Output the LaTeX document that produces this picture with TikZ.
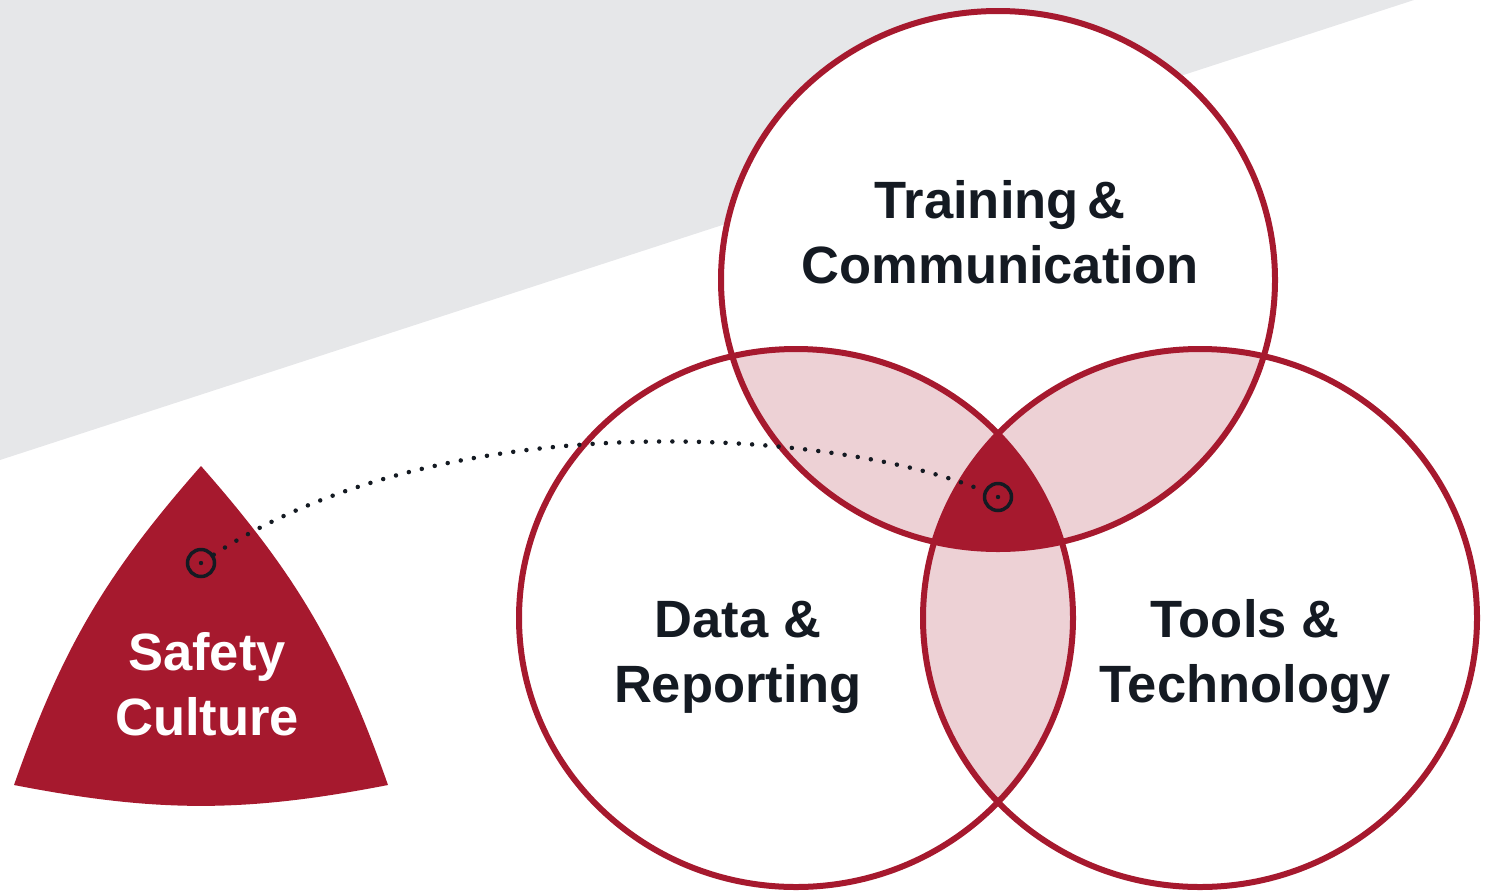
\documentclass[tikz,border=0pt]{standalone}
\usepackage{fontspec}
\setmainfont{Liberation Sans}
\definecolor{venred}{HTML}{A6192E}
\definecolor{venpink}{HTML}{EDD1D5}
\definecolor{bandgray}{HTML}{E6E7E9}
\definecolor{inkdark}{HTML}{141A22}
\tikzset{
  ring/.style={draw=venred, line width=6pt},
  label/.style={align=center, text=inkdark, font=\fontsize{52.5}{65}\selectfont\bfseries},
  marker/.style={circle, draw=inkdark, line width=3.5pt, minimum size=27pt, inner sep=0pt},
  dotline/.style={draw=inkdark, line width=4.5pt, line cap=round, dash pattern=on 0pt off 13.3pt}
}
\begin{document}
\begin{tikzpicture}[x=1pt,y=-1pt]
        \useasboundingbox (0,0) rectangle (1493,892);
        % grey band behind the circles
        \fill[bandgray] (0,0) -- (1414,0) -- (0,460) -- cycle;
        % the three circles
        \fill[white] (998,280) ellipse [x radius=277, y radius=269];
        \fill[white] (796,618) ellipse [x radius=277, y radius=269];
        \fill[white] (1200,618) ellipse [x radius=277, y radius=269];
        \begin{scope}
          \clip (998,280) ellipse [x radius=277, y radius=269];
          \fill[venpink] (796,618) ellipse [x radius=277, y radius=269];
          \fill[venpink] (1200,618) ellipse [x radius=277, y radius=269];
        \end{scope}
        \begin{scope}
          \clip (796,618) ellipse [x radius=277, y radius=269];
          \fill[venpink] (1200,618) ellipse [x radius=277, y radius=269];
        \end{scope}
        \begin{scope}
          \clip (998,280) ellipse [x radius=277, y radius=269];
          \clip (796,618) ellipse [x radius=277, y radius=269];
          \fill[venred] (1200,618) ellipse [x radius=277, y radius=269];
        \end{scope}
        \draw[ring] (998,280) ellipse [x radius=277, y radius=269];
        \draw[ring] (796,618) ellipse [x radius=277, y radius=269];
        \draw[ring] (1200,618) ellipse [x radius=277, y radius=269];
        % safety culture shape
        \fill[venred] (201,466) to[bend right=11] (14,785)
             to[bend right=11] (388,785) to[bend right=11] cycle;
        % markers and dotted link
        \node[marker] (culturemark) at (201,563) {};
        \node[marker] (hubmark) at (998,497) {};
        \fill[inkdark] (culturemark.center) circle (2.2);
        \fill[inkdark] (hubmark.center) circle (2.2);
        \draw[dotline] (culturemark) .. controls (450,400) and (840,430) .. (hubmark);
        % labels
        \node[label] (training) at (1000,232) {Training\,\&\\Communication};
        \node[label] (data) at (738,657) {Data \&\\Reporting};
        \node[label] (tools) at (1245,657) {Tools \&\\Technology};
        \node[label, text=white] (culture) at (207,684) {Safety\\Culture};
\end{tikzpicture}
\end{document}
